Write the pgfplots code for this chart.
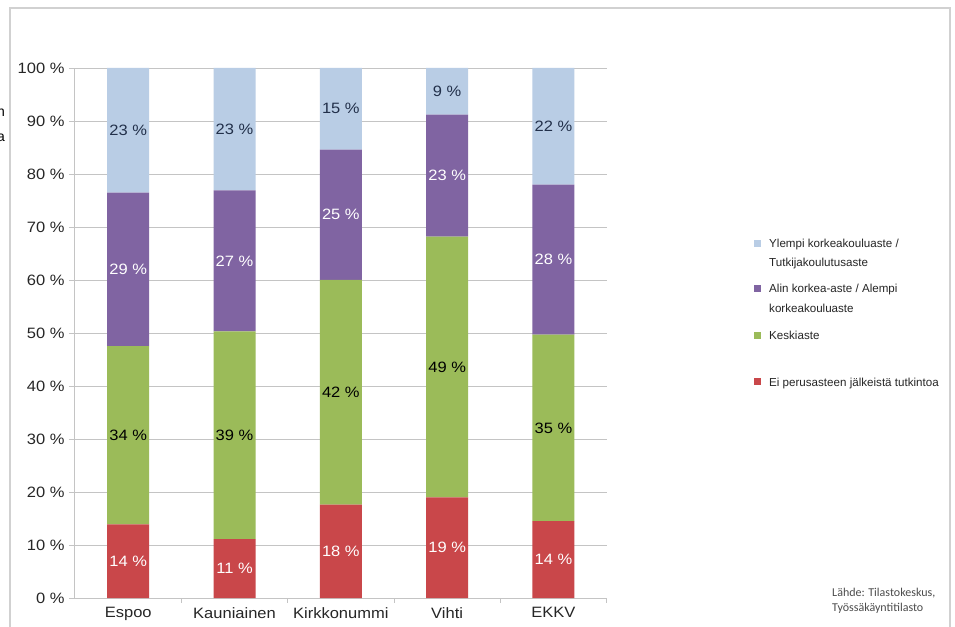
\documentclass[border=0pt]{standalone}
\usepackage{pgfplots}
\usepackage{pgfplotstable}
\pgfplotsset{compat=1.18}
\usepackage{fontspec}
\setmainfont{Liberation Sans}
\newfontfamily\wide[FakeStretch=1.1]{Liberation Sans}
\newfontfamily\srcfont{Carlito}
\definecolor{cRed}{HTML}{C9474A}
\definecolor{cGreen}{HTML}{9BBB59}
\definecolor{cPurple}{HTML}{8064A2}
\definecolor{cBlue}{HTML}{B9CDE5}
\definecolor{cNavy}{HTML}{22304A}
\definecolor{cGrid}{HTML}{C4C4C4}

% segment heights (percent)
\pgfplotstableread{
x red green purple blue
0 13.9 33.6 29.0 23.5
1 11.1 39.2 26.6 23.1
2 17.6 42.4 24.6 15.4
3 19.0 49.2 23.0 8.8
4 14.5 35.2 28.3 22.0
}\segdata

% label positions (segment centres) and printed values
\pgfplotstableread{
x y l
0 6.95 14
1 5.55 11
2 8.8 18
3 9.5 19
4 7.25 14
}\labred
\pgfplotstableread{
x y l
0 30.7 34
1 30.7 39
2 38.8 42
3 43.6 49
4 32.1 35
}\labgreen
\pgfplotstableread{
x y l
0 62.0 29
1 63.6 27
2 72.3 25
3 79.7 23
4 63.85 28
}\labpurple
\pgfplotstableread{
x y l
0 88.25 23
1 88.45 23
2 92.3 15
3 95.6 9
4 89.0 22
}\labblue

\begin{document}
\begin{tikzpicture}
\useasboundingbox (0,0) rectangle (955pt,626pt);
\begin{scope}
\clip (0,0) rectangle (955pt,626pt);
\fill[white] (0,0) rectangle (955pt,626pt);
\draw[line width=1.6pt, color=black!18] (10pt,-20pt) -- (10pt,618pt) -- (950pt,618pt) -- (950pt,-20pt);
\node[anchor=base east, inner sep=0pt, font=\fontsize{14}{16}\selectfont] at (5pt,{(626-117)*1pt}) {n};
\node[anchor=base east, inner sep=0pt, font=\fontsize{14}{16}\selectfont] at (5pt,{(626-142)*1pt}) {a};
\end{scope}

\begin{axis}[
  at={(74pt,28pt)}, anchor=south west,
  scale only axis, width=532.6pt, height=530pt,
  ybar stacked, bar width=42pt,
  xmin=-0.51, xmax=4.5, ymin=0, ymax=100,
  xtick={0,1,2,3,4},
  xticklabels={Espoo,Kauniainen,Kirkkonummi,Vihti,EKKV},
  minor xtick={0.5,1.5,2.5,3.5,4.5},
  ytick={0,10,20,30,40,50,60,70,80,90,100},
  yticklabels={0 \%,10 \%,20 \%,30 \%,40 \%,50 \%,60 \%,70 \%,80 \%,90 \%,100 \%},
  ymajorgrids, grid style={draw=cGrid, line width=0.9pt},
  axis x line*=bottom, axis y line*=left,
  axis line style={draw=cGrid, line width=0.9pt, -},
  tick align=outside, major tick length=5pt, minor tick length=5pt,
  major x tick style={draw=none}, minor x tick style={draw=cGrid, line width=0.9pt},
  ytick style={draw=cGrid, line width=0.9pt},
  ticklabel style={font=\wide\fontsize{15}{17}\selectfont, text=black!85},
  yticklabel style={xshift=-1pt},
  xticklabel style={yshift=-1pt},
]
\addplot[fill=cRed, draw=none] table[x=x, y=red] {\segdata};
\addplot[fill=cGreen, draw=none] table[x=x, y=green] {\segdata};
\addplot[fill=cPurple, draw=none] table[x=x, y=purple] {\segdata};
\addplot[fill=cBlue, draw=none] table[x=x, y=blue] {\segdata};
\end{axis}

\begin{axis}[
  at={(74pt,28pt)}, anchor=south west,
  scale only axis, width=532.6pt, height=530pt,
  xmin=-0.51, xmax=4.5, ymin=0, ymax=100,
  hide axis, clip=false,
  nodes near coords={\pgfplotspointmeta~\%},
  point meta=explicit symbolic,
]
\addplot[only marks, mark=*, mark size=0pt, mark options={draw=none, fill=none},
  every node near coord/.append style={anchor=center, font=\wide\fontsize{15}{17}\selectfont, text=white}]
  table[x=x, y=y, meta=l] {\labred};
\addplot[only marks, mark=*, mark size=0pt, mark options={draw=none, fill=none},
  every node near coord/.append style={anchor=center, font=\wide\fontsize{15}{17}\selectfont, text=black}]
  table[x=x, y=y, meta=l] {\labgreen};
\addplot[only marks, mark=*, mark size=0pt, mark options={draw=none, fill=none},
  every node near coord/.append style={anchor=center, font=\wide\fontsize{15}{17}\selectfont, text=white}]
  table[x=x, y=y, meta=l] {\labpurple};
\addplot[only marks, mark=*, mark size=0pt, mark options={draw=none, fill=none},
  every node near coord/.append style={anchor=center, font=\wide\fontsize{15}{17}\selectfont, text=cNavy}]
  table[x=x, y=y, meta=l] {\labblue};
\end{axis}

% legend
\begin{scope}[every node/.style={anchor=base west, inner sep=0pt, font=\fontsize{11.6}{14}\selectfont, text=black!85}]
\fill[cBlue]   (753.5pt,{(626-247.5)*1pt}) rectangle (760.5pt,{(626-240.5)*1pt});
\fill[cPurple] (753.5pt,{(626-292.5)*1pt}) rectangle (760.5pt,{(626-285.5)*1pt});
\fill[cGreen]  (753.5pt,{(626-339)*1pt}) rectangle (760.5pt,{(626-332)*1pt});
\fill[cRed]    (753.5pt,{(626-385.5)*1pt}) rectangle (760.5pt,{(626-378.5)*1pt});
\node at (769pt,{(626-248)*1pt}) {Ylempi korkeakouluaste /};
\node at (769pt,{(626-267)*1pt}) {Tutkijakoulutusaste};
\node at (769pt,{(626-293)*1pt}) {Alin korkea-aste / Alempi};
\node at (769pt,{(626-313)*1pt}) {korkeakouluaste};
\node at (769pt,{(626-339.5)*1pt}) {Keskiaste};
\node at (769pt,{(626-386.5)*1pt}) {Ei perusasteen jälkeistä tutkintoa};
\end{scope}
\node[anchor=base west, inner sep=0pt, font=\srcfont\fontsize{12}{14}\selectfont, text=black!70] at (832pt,{(626-597)*1pt}) {Lähde: Tilastokeskus,};
\node[anchor=base west, inner sep=0pt, font=\srcfont\fontsize{12}{14}\selectfont, text=black!70] at (832pt,{(626-612)*1pt}) {Työssäkäyntitilasto};
\end{tikzpicture}
\end{document}
